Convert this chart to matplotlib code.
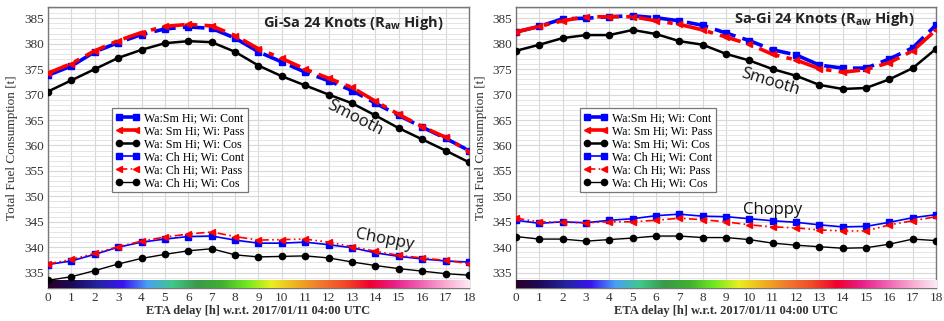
import numpy as np
import matplotlib
matplotlib.use("Agg")
import matplotlib.pyplot as plt
from matplotlib.colors import LinearSegmentedColormap

# ETA delay hours
hours = np.arange(0, 19)

# Gi-Sa (left panel)
gs_sm_cont = [373.8, 375.6, 378.4, 380.2, 381.8, 382.9, 383.3, 383.0, 381.1, 378.4,
              376.4, 374.4, 372.7, 370.8, 368.3, 365.9, 363.6, 361.4, 359.0]
gs_sm_pass = [374.2, 376.1, 378.6, 380.6, 382.2, 383.4, 383.8, 383.5, 381.6, 379.0,
              377.1, 375.0, 373.2, 371.4, 368.7, 366.1, 363.7, 361.6, 358.8]
gs_sm_cos = [370.6, 372.8, 375.0, 377.2, 378.8, 380.1, 380.5, 380.3, 378.4, 375.7,
             373.6, 371.8, 370.0, 368.3, 365.9, 363.4, 361.2, 359.0, 356.7]
gs_ch_cont = [336.6, 337.3, 338.6, 340.0, 341.0, 341.6, 342.1, 342.2, 341.4, 340.8,
              340.8, 341.0, 340.5, 339.9, 338.9, 338.2, 337.7, 337.3, 337.1]
gs_ch_pass = [336.7, 337.6, 338.8, 340.1, 341.2, 342.0, 342.6, 343.0, 342.1, 341.4,
              341.5, 341.6, 341.0, 340.1, 339.2, 338.4, 337.9, 337.4, 336.8]
gs_ch_cos = [333.5, 334.2, 335.4, 336.7, 337.8, 338.6, 339.3, 339.7, 338.5, 338.1,
             338.2, 338.3, 337.9, 337.1, 336.4, 335.8, 335.3, 334.8, 334.5]

# Sa-Gi (right panel)
sg_sm_cont = [382.3, 383.4, 384.9, 385.0, 385.3, 385.5, 385.1, 384.5, 383.6, 382.1,
              380.6, 378.8, 377.8, 375.8, 375.2, 375.2, 377.0, 379.2, 383.7]
sg_sm_pass = [382.3, 383.4, 384.5, 385.3, 385.3, 385.3, 384.5, 383.8, 382.7, 381.3,
              379.9, 377.9, 376.8, 375.1, 374.4, 374.9, 376.3, 378.6, 382.7]
sg_sm_cos = [378.6, 379.8, 381.1, 381.7, 381.7, 382.7, 381.9, 380.5, 379.8, 378.0,
             376.7, 375.0, 373.7, 371.9, 371.1, 371.3, 373.0, 375.2, 379.0]
sg_ch_cont = [345.3, 344.7, 345.0, 344.8, 345.3, 345.6, 346.2, 346.5, 346.1, 346.0,
              345.6, 345.2, 344.9, 344.4, 344.0, 344.1, 344.9, 345.8, 346.4]
sg_ch_pass = [345.7, 345.0, 344.9, 344.8, 345.0, 345.0, 345.3, 345.7, 345.4, 345.0,
              344.4, 344.0, 343.8, 343.4, 343.2, 343.2, 344.4, 345.2, 346.0]
sg_ch_cos = [342.1, 341.6, 341.6, 341.2, 341.5, 341.8, 342.2, 342.2, 341.9, 341.9,
             341.5, 340.8, 340.4, 340.1, 339.8, 339.9, 340.6, 341.6, 341.3]

labels = ["Wa:Sm Hi; Wi: Cont", "Wa: Sm Hi; Wi: Pass", "Wa: Sm Hi; Wi: Cos",
          "Wa: Ch Hi; Wi: Cont", "Wa: Ch Hi; Wi: Pass", "Wa: Ch Hi; Wi: Cos"]

# colour strip along the bottom of each panel
strip_colors = ["#2a0028", "#1c0a5c", "#2424a0", "#3a14f0", "#4aa0f4", "#40c88a",
                "#3a9a48", "#40b030", "#70e820", "#e8f020", "#f0b020", "#f07830",
                "#f04828", "#f00030", "#e8208a", "#f060b0", "#f8a8d0", "#fde8f4"]
strip_cmap = LinearSegmentedColormap.from_list("strip", strip_colors)

serif = "Liberation Serif"
sans = "Open Sans"

fig = plt.figure(figsize=(9.44, 3.21), dpi=100)
ax1 = fig.add_axes([0.0508, 0.103, 0.446, 0.875])
ax2 = fig.add_axes([0.5466, 0.103, 0.445, 0.875])


def draw_panel(ax, data, title, title_xy, smooth_txt, choppy_txt):
    sm_cont, sm_pass, sm_cos, ch_cont, ch_pass, ch_cos = data
    ax.plot(hours, sm_cont, color="blue", ls=(0, (6, 2)), lw=2.6, marker="s", ms=4, zorder=5)
    ax.plot(hours, sm_pass, color="red", ls=(0, (6, 2, 1.5, 2)), lw=2.6, marker="<", ms=5, zorder=6)
    ax.plot(hours, sm_cos, color="black", ls="-", lw=1.8, marker="o", ms=4.5, zorder=4)
    ax.plot(hours, ch_cont, color="blue", ls="-", lw=1.2, marker="s", ms=4, zorder=5)
    ax.plot(hours, ch_pass, color="red", ls=(0, (5, 2, 1, 2, 1, 2)), lw=1.2, marker="<", ms=4.5, zorder=6)
    ax.plot(hours, ch_cos, color="black", ls="-", lw=1.0, marker="o", ms=4.5, zorder=4)

    ax.imshow(np.linspace(0, 1, 256)[None, :], cmap=strip_cmap, aspect="auto",
              extent=(hours[0], hours[-1], 332, 333.4), zorder=3)

    ax.set_xlim(hours[0], hours[-1])
    ax.set_ylim(332, 387.2)
    ax.set_xticks(hours)
    ax.set_yticks(np.arange(335, 386, 5))
    ax.set_yticks(np.arange(332, 388, 1), minor=True)
    ax.grid(True, which="major", color="#d8d8d8", lw=0.8)
    ax.grid(True, which="minor", axis="y", color="#e0e0e0", lw=0.6)
    ax.set_axisbelow(True)
    ax.tick_params(which="both", length=0, labelsize=9.5, pad=3)
    for lab in ax.get_xticklabels() + ax.get_yticklabels():
        lab.set_fontfamily(serif)
        lab.set_color("#333333")
    for s in ax.spines.values():
        s.set_color("#777777")
        s.set_linewidth(1.0)

    ax.set_xlabel("ETA delay [h] w.r.t. 2017/01/11 04:00 UTC", fontfamily=serif,
                  fontweight="bold", fontsize=9, color="#333333", labelpad=1)
    ax.set_ylabel("Total Fuel Consumption [t]", fontfamily=serif, fontsize=9.5,
                  color="#333333", labelpad=4)

    ax.text(title_xy[0], title_xy[1], title, transform=ax.transAxes, ha="right", va="center",
            fontfamily=sans, fontweight="bold", fontsize=10.5, color="#222222")
    ax.text(*smooth_txt[:2], "Smooth", rotation=smooth_txt[2], ha="center", va="center",
            fontfamily=sans, fontsize=12, color="#111111", zorder=7)
    ax.text(*choppy_txt[:2], "Choppy", rotation=choppy_txt[2], ha="center", va="center",
            fontfamily=sans, fontsize=12, color="#111111", zorder=7)

    leg = ax.legend(labels, loc="lower left", bbox_to_anchor=(0.152, 0.34), borderaxespad=0,
                    numpoints=2, handlelength=2.0, handletextpad=0.4, labelspacing=0.08,
                    borderpad=0.3, fancybox=False, framealpha=1, edgecolor="#777777",
                    prop={"family": serif, "size": 8.6})
    leg.get_frame().set_linewidth(0.9)
    leg.set_zorder(10)


draw_panel(ax1, [gs_sm_cont, gs_sm_pass, gs_sm_cos, gs_ch_cont, gs_ch_pass, gs_ch_cos],
           r"Gi-Sa 24 Knots (R$_{\mathregular{aw}}$ High)", (0.94, 0.943),
           (13.1, 365.4, -27), (14.4, 341.4, -11))
draw_panel(ax2, [sg_sm_cont, sg_sm_pass, sg_sm_cos, sg_ch_cont, sg_ch_pass, sg_ch_cos],
           r"Sa-Gi 24 Knots (R$_{\mathregular{aw}}$ High)", (0.95, 0.958),
           (10.9, 372.5, -17), (11.0, 347.4, 0))

plt.savefig("out.png", dpi=100)
